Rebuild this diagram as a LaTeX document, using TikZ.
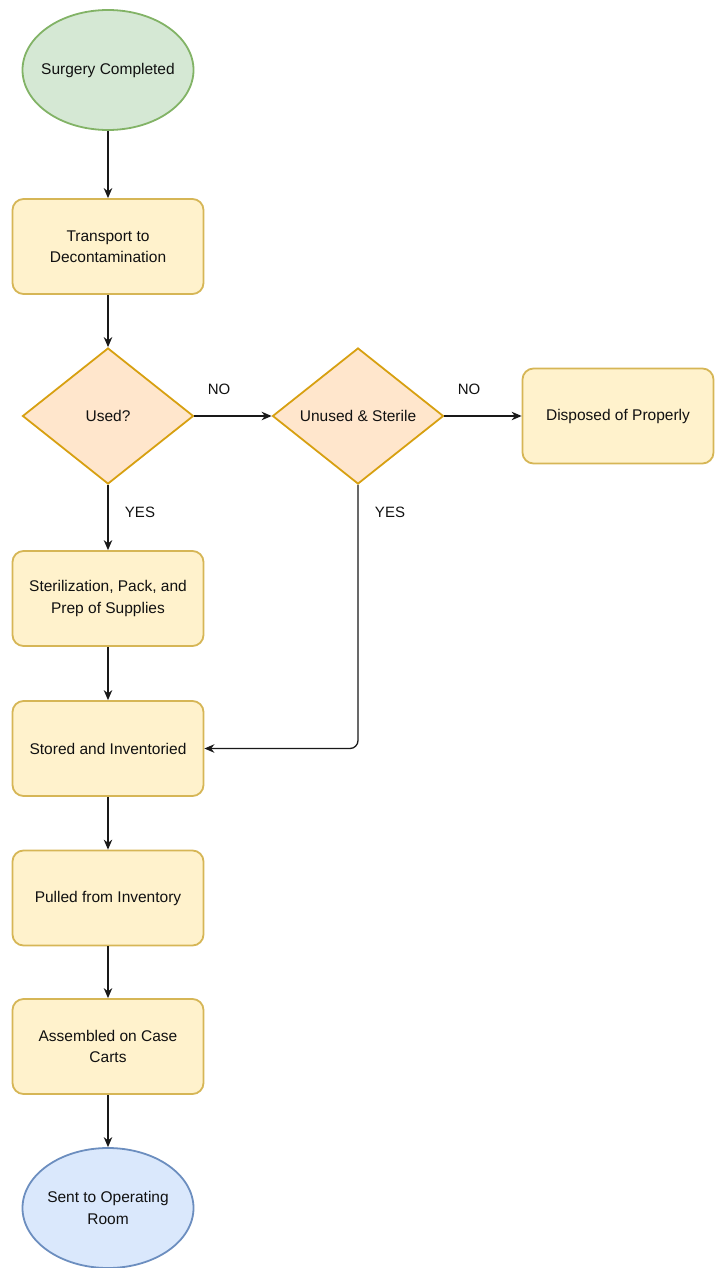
\documentclass[tikz,border=0pt]{standalone}
\usepackage{fontspec}
\setmainfont{Liberation Sans}
\usetikzlibrary{shapes.geometric,arrows.meta}
\definecolor{gfill}{HTML}{D5E8D4}\definecolor{gline}{HTML}{82B366}
\definecolor{yfill}{HTML}{FFF2CC}\definecolor{yline}{HTML}{D6B656}
\definecolor{ofill}{HTML}{FFE6CC}\definecolor{oline}{HTML}{D79B00}
\definecolor{bfill}{HTML}{DAE8FC}\definecolor{bline}{HTML}{6C8EBF}
\definecolor{txt}{HTML}{111111}
\tikzset{
  base/.style={line width=1.8pt, text=txt, font=\fontsize{15.5}{21.5}\selectfont, align=center, inner sep=0pt},
  terminal/.style={base, ellipse, inner xsep=-30pt, inner ysep=-10pt, minimum width=171pt, minimum height=120pt},
  green/.style={terminal, draw=gline, fill=gfill},
  blue/.style={terminal, draw=bline, fill=bfill},
  proc/.style={base, rectangle, rounded corners=11pt, draw=yline, fill=yfill, minimum width=191pt, minimum height=95pt},
  decision/.style={base, diamond, aspect=1.26, inner xsep=-20pt, draw=oline!80!yline, fill=ofill, minimum width=171pt, minimum height=136pt},
  conn/.style={line width=1.3pt, draw=black!90, -{Stealth[length=10pt,width=8.5pt]}},
  lbl/.style={font=\fontsize{15}{17}\selectfont, text=txt, inner sep=0pt},
}
\begin{document}
\begin{tikzpicture}[x=1pt,y=-1pt]
\useasboundingbox (0,0) rectangle (722,1268);
\node[green] (start) at (108,70) {Surgery Completed};
\node[proc] (trans) at (108,246.5) {Transport to\\Decontamination};
\node[decision] (used) at (108,416) {Used?};
\node[decision] (unused) at (358,416) {Unused \& Sterile};
\node[proc] (disp) at (618,416) {Disposed of Properly};
\node[proc] (steril) at (108,598.5) {Sterilization, Pack, and\\Prep of Supplies};
\node[proc] (stored) at (108,748.5) {Stored and Inventoried};
\node[proc] (pulled) at (108,898) {Pulled from Inventory};
\node[proc] (assem) at (108,1046.5) {Assembled on Case\\Carts};
\node[blue] (sent) at (108,1208) {Sent to Operating\\Room};
\draw[conn] (start) -- (trans);
\draw[conn] (trans) -- (used);
\draw[conn] (used) -- (unused);
\draw[conn] (unused) -- (disp);
\draw[conn] (used) -- (steril);
\draw[conn] (steril) -- (stored);
\draw[conn, rounded corners=8pt] (unused.south) |- (stored.east);
\draw[conn] (stored) -- (pulled);
\draw[conn] (pulled) -- (assem);
\draw[conn] (assem) -- (sent);
\node[lbl] (no1) at (219,389) {NO};
\node[lbl] (no2) at (469,389) {NO};
\node[lbl] (yes1) at (140,512) {YES};
\node[lbl] (yes2) at (390,512) {YES};
\end{tikzpicture}
\end{document}
